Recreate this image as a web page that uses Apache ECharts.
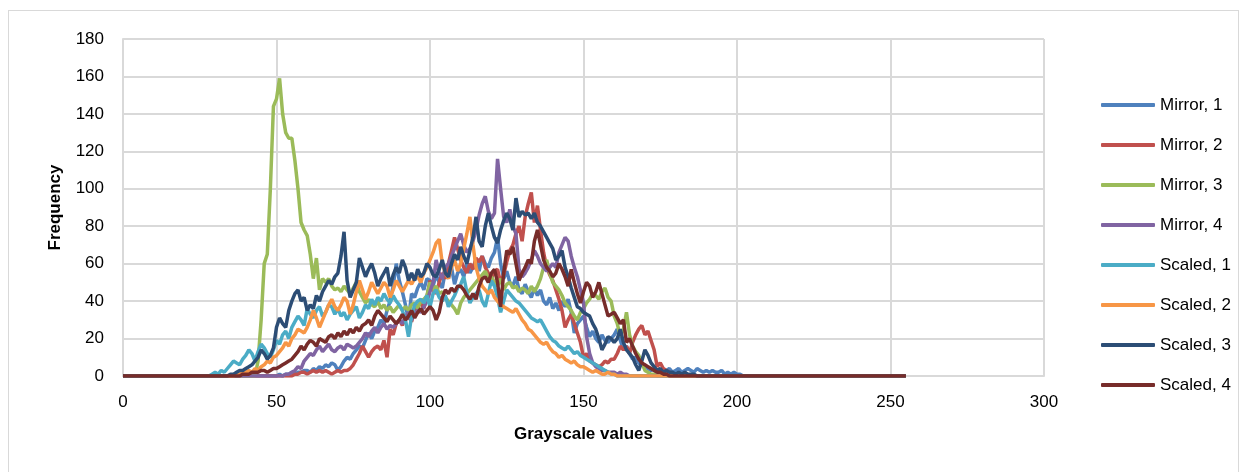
<!DOCTYPE html>
<html>
<head>
<meta charset="utf-8">
<script src="https://cdn.jsdelivr.net/npm/echarts@6/dist/echarts.min.js"></script>
<style>
  html, body { margin: 0; padding: 0; background: #fff; }
  #frame { position: absolute; left: 8px; top: 10px; width: 1229px; height: 470px; border: 1px solid #d9d9d9; }
  #main { position: absolute; left: 0; top: 0; width: 1246px; height: 472px; }
</style>
</head>
<body>
<div id="frame"></div>
<div id="main"></div>
<script>
// grayscale value where each histogram starts; values follow one per grayscale step
var names = ['Mirror, 1', 'Mirror, 2', 'Mirror, 3', 'Mirror, 4', 'Scaled, 1', 'Scaled, 2', 'Scaled, 3', 'Scaled, 4'];
var colors = ['#4F81BD', '#C0504D', '#9BBB59', '#8064A2', '#4BACC6', '#F79646', '#2C4D75', '#772C2A'];
var xTicks = [0, 50, 100, 150, 200, 250, 300];
var yTicks = [0, 20, 40, 60, 80, 100, 120, 140, 160, 180];
var lastGray = 255;

var mirror1Start = 50;
var mirror1 = [
  0,1,0,1,1,2,1,2,2,3,
  3,2,4,3,5,4,6,5,7,6,
  3,5,8,10,9,12,14,16,15,19,
  23,20,24,26,30,28,35,40,48,60,
  51,45,38,30,44,42,47,50,46,52,
  51,48,54,50,47,56,52,58,49,55,
  57,53,60,55,58,62,56,64,60,58,
  63,66,74,60,52,56,50,48,53,46,
  44,49,45,42,47,43,46,40,38,42,
  36,39,35,40,37,41,34,23,28,30,
  32,26,21,24,20,18,22,19,18,20,
  22,25,19,14,16,12,9,10,7,6,
  5,4,3,4,2,3,2,3,4,2,
  3,4,2,3,4,3,2,4,3,2,
  3,2,3,2,2,3,1,2,1,2,
  1,1,0
];

var mirror2Start = 55;
var mirror2 = [
  0,1,1,2,2,
  1,2,3,2,3,2,3,2,1,2,
  3,2,3,3,4,6,9,12,16,13,
  10,13,15,16,14,19,10,25,22,28,
  30,27,31,32,29,35,37,39,36,42,
  51,46,44,50,55,52,60,67,74,68,
  62,58,55,60,57,63,61,64,58,55,
  52,56,57,50,54,61,67,70,76,80,
  72,85,92,98,82,91,78,66,58,54,
  51,46,41,35,26,30,33,28,23,18,
  10,12,8,7,6,5,6,8,7,9,
  9,12,16,14,16,12,18,22,25,27,
  22,24,19,14,5,7,4,3,2,1,
  1,0,0
];

var mirror3Start = 43;
var mirror3 = [
  0,8,30,60,65,100,144,
  148,159,140,130,127,127,115,100,82,78,
  75,65,52,63,46,52,50,52,48,46,
  47,45,48,46,44,47,50,45,42,39,
  41,38,37,40,36,38,35,37,34,36,
  38,35,37,35,38,39,36,40,41,43,
  50,46,48,44,45,42,40,38,36,33,
  39,42,44,46,48,50,52,54,56,52,
  53,50,48,52,46,49,50,47,48,45,
  47,46,44,48,45,48,52,58,62,55,
  50,48,46,43,39,37,35,32,30,34,
  36,39,41,44,43,41,45,47,42,40,
  32,28,21,25,34,22,16,13,11,7,
  3,2,1,1,0,0
];

var mirror4Start = 52;
var mirror4 = [
  0,1,1,2,3,5,4,8,
  10,12,11,14,16,13,15,17,14,13,
  15,16,14,17,16,15,16,18,20,23,
  21,24,26,23,26,28,25,27,26,28,
  30,28,32,34,30,33,35,34,37,40,
  45,50,62,55,52,58,60,64,68,72,
  76,70,66,68,72,78,86,92,96,88,
  84,87,116,100,85,82,89,80,76,57,
  53,55,58,62,67,64,60,58,56,58,
  60,58,66,70,74,72,64,58,53,46,
  39,21,12,7,5,4,3,3,2,2,
  2,1,2,1,1,0,0
];

var scaled1Start = 28;
var scaled1 = [
  0,1,
  2,1,3,2,4,6,8,7,6,9,
  11,14,12,8,13,17,15,12,10,14,
  19,17,22,24,20,26,29,32,30,27,
  36,33,31,35,37,32,34,38,37,33,
  36,32,34,30,33,35,37,31,34,38,
  36,41,38,42,40,44,41,39,43,40,
  38,35,30,21,32,38,40,41,39,43,
  37,44,46,42,40,43,37,40,43,47,
  49,53,45,39,42,44,46,40,37,44,
  51,48,42,34,40,46,44,42,40,39,
  37,35,33,31,30,29,30,27,24,21,
  19,18,16,15,14,16,14,12,13,11,
  10,9,8,7,6,5,4,3,2,1,
  1,0,0
];

var scaled2Start = 36;
var scaled2 = [
  0,1,1,2,
  2,3,2,4,3,5,6,8,7,10,
  11,13,15,18,16,20,22,25,24,23,
  26,30,35,31,26,30,34,38,41,37,
  35,38,42,40,33,38,45,51,46,41,
  45,50,47,44,47,50,48,42,46,51,
  48,45,48,51,49,52,53,50,55,58,
  62,66,71,73,60,55,52,58,62,56,
  60,68,76,85,70,58,52,48,46,44,
  46,42,40,38,37,36,35,34,36,33,
  30,28,25,24,22,20,18,17,18,15,
  13,12,10,11,9,8,7,8,6,5,
  5,4,3,2,3,2,1,1,2,1,
  1,0,0
];

var scaled3Start = 34;
var scaled3 = [
  0,1,1,2,3,3,
  4,5,6,8,10,14,12,9,11,15,
  26,31,28,26,35,40,44,46,40,42,
  35,38,36,43,40,45,48,51,49,53,
  55,64,77,51,42,46,50,63,58,53,
  57,60,55,48,52,55,58,48,54,58,
  55,62,58,51,55,51,57,53,55,60,
  58,54,53,57,62,55,53,60,65,62,
  69,64,60,67,74,85,72,69,80,87,
  80,74,71,78,83,87,84,78,95,85,
  88,86,87,84,87,82,80,77,74,71,
  68,62,64,67,58,53,47,42,37,36,
  34,33,32,28,25,20,14,17,21,20,
  18,20,25,18,14,12,10,6,3,8,
  14,11,7,5,3,4,2,3,2,2,
  1,2,1,2,1,1,1,0,0
];

var scaled4Start = 38;
var scaled4 = [
  0,1,
  1,1,2,2,2,3,3,2,3,4,
  4,5,6,7,8,9,11,13,16,14,
  17,19,18,16,20,19,18,21,22,20,
  23,21,24,22,25,23,26,24,27,28,
  30,27,32,35,33,31,29,32,30,28,
  30,33,30,32,35,31,34,36,33,35,
  37,35,30,34,42,46,44,47,45,48,
  48,46,43,41,44,41,48,52,53,50,
  55,57,50,37,55,67,65,69,60,51,
  55,58,62,60,72,78,70,62,58,56,
  53,55,60,57,53,48,57,50,44,39,
  45,50,48,42,45,50,44,38,32,33,
  34,31,28,30,18,20,16,12,9,7,
  6,5,4,3,2,2,1,1,0,0
];

var starts = [mirror1Start, mirror2Start, mirror3Start, mirror4Start, scaled1Start, scaled2Start, scaled3Start, scaled4Start];
var values = [mirror1, mirror2, mirror3, mirror4, scaled1, scaled2, scaled3, scaled4];

// histogram is zero outside the listed range, so pin the two ends at 0 and 255
function toPoints(start, vals) {
  var pts = [[0, 0]];
  vals.forEach(function (v, i) { pts.push([start + i, v]); });
  pts.push([lastGray, 0]);
  return pts;
}

var myChart = echarts.init(document.getElementById('main'));
var font = 'Liberation Sans, Arial, sans-serif';

myChart.setOption({
  animation: false,
  color: colors,
  grid: { left: 123, top: 39, right: 202, bottom: 96 },
  legend: {
    orient: 'vertical',
    left: 1096,
    top: 90,
    itemWidth: 54,
    itemHeight: 4,
    itemGap: 20,
    icon: 'roundRect',
    data: names,
    textStyle: { fontFamily: font, fontSize: 17, color: '#000', lineHeight: 20 }
  },
  xAxis: {
    type: 'value',
    min: xTicks[0],
    max: xTicks[xTicks.length - 1],
    interval: xTicks[1] - xTicks[0],
    name: 'Grayscale values',
    nameLocation: 'middle',
    nameGap: 50,
    nameTextStyle: { fontFamily: font, fontSize: 17, fontWeight: 'bold', color: '#000' },
    axisLine: { lineStyle: { color: '#d9d9d9', width: 2 } },
    axisTick: { show: false },
    axisLabel: { margin: 18, fontFamily: font, fontSize: 17, color: '#000' },
    splitLine: { lineStyle: { color: '#d9d9d9', width: 2 } }
  },
  yAxis: {
    type: 'value',
    min: yTicks[0],
    max: yTicks[yTicks.length - 1],
    interval: yTicks[1] - yTicks[0],
    name: 'Frequency',
    nameLocation: 'middle',
    nameGap: 59,
    nameTextStyle: { fontFamily: font, fontSize: 17, fontWeight: 'bold', color: '#000' },
    axisLine: { show: true, lineStyle: { color: '#d9d9d9', width: 2 } },
    axisTick: { show: false },
    axisLabel: { margin: 19, fontFamily: font, fontSize: 17, color: '#000' },
    splitLine: { lineStyle: { color: '#d9d9d9', width: 2 } }
  },
  series: names.map(function (n, k) {
    return {
      name: n,
      type: 'line',
      symbol: 'none',
      data: toPoints(starts[k], values[k]),
      lineStyle: { width: 3.5, color: colors[k] },
      itemStyle: { color: colors[k] }
    };
  })
});
</script>
</body>
</html>
